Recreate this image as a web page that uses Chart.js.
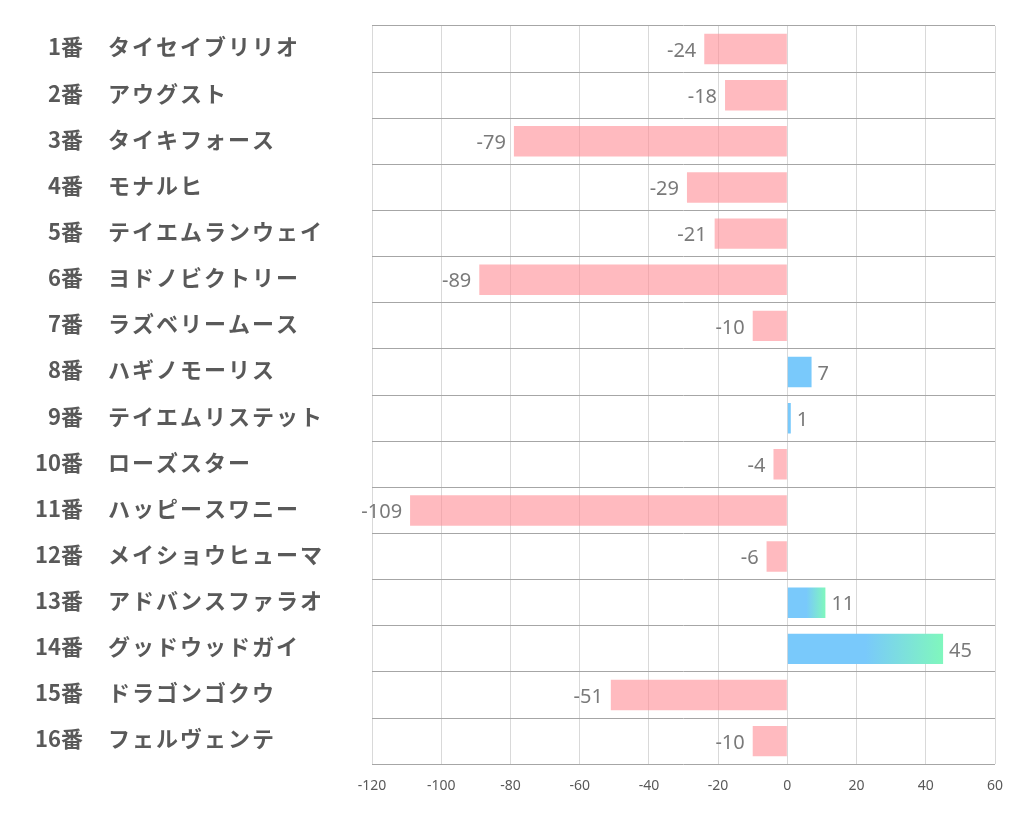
<!DOCTYPE html>
<html>
<head>
<meta charset="utf-8">
<script src="https://cdn.jsdelivr.net/npm/chart.js@4"></script>
<style>
  html, body { margin: 0; padding: 0; background: #fff; }
  #wrap { width: 1022px; height: 834px; }
</style>
</head>
<body>
<div id="wrap"><canvas id="myChart"></canvas></div>
<script>
"use strict";

/********/
/* data */
/********/
const numbers = ["1番", "2番", "3番", "4番", "5番", "6番", "7番", "8番",
	"9番", "10番", "11番", "12番", "13番", "14番", "15番", "16番"];
const horses = ["タイセイブリリオ", "アウグスト", "タイキフォース", "モナルヒ",
	"テイエムランウェイ", "ヨドノビクトリー", "ラズベリームース", "ハギノモーリス",
	"テイエムリステット", "ローズスター", "ハッピースワニー", "メイショウヒューマ",
	"アドバンスファラオ", "グッドウッドガイ", "ドラゴンゴクウ", "フェルヴェンテ"];
const values = [-24, -18, -79, -29, -21, -89, -10, 7, 1, -4, -109, -6, 11, 45, -51, -10];
const xTicks = [-120, -100, -80, -60, -40, -20, 0, 20, 40, 60];

/**********/
/* colors */
/**********/
const pink = "rgba(255, 140, 148, 0.6)";
const blue = "#79c9fb";
const green = "#80f7bd";
const labelFont = "bold 22px 'Noto Sans CJK JP'";
const valueFont = "20px 'Noto Sans'";

function barColor(context) {
	const v = context.raw;
	if (v < 0) {
		return pink;
	}
	const chart = context.chart;
	if (!chart.chartArea || v < 10) {
		return blue;
	}
	// fade to green over the outer half of longer bars
	const x = chart.scales.x;
	const x0 = x.getPixelForValue(0);
	const x1 = x.getPixelForValue(v);
	const g = chart.ctx.createLinearGradient(x0, 0, x1, 0);
	g.addColorStop(0, blue);
	g.addColorStop(0.5, blue);
	g.addColorStop(1, green);
	return g;
}

/***********/
/* plugins */
/***********/
const rowLabels = {
	id: "rowLabels",
	afterDraw(chart) {
		const ctx = chart.ctx;
		const y = chart.scales.y;
		ctx.save();
		ctx.font = labelFont;
		ctx.fillStyle = "#595959";
		ctx.textBaseline = "middle";
		numbers.forEach((num, i) => {
			const py = y.getPixelForValue(i) - 2;
			ctx.letterSpacing = "0px";
			ctx.textAlign = "right";
			ctx.fillText(num, 83, py);
			// name is drawn a little spread out, like the original
			ctx.letterSpacing = "2px";
			ctx.textAlign = "left";
			ctx.fillText(horses[i], 108, py);
		});
		ctx.restore();
	}
};

const valueLabels = {
	id: "valueLabels",
	afterDatasetsDraw(chart) {
		const ctx = chart.ctx;
		const meta = chart.getDatasetMeta(0);
		ctx.save();
		ctx.font = valueFont;
		ctx.fillStyle = "#7a7a7a";
		ctx.textBaseline = "middle";
		meta.data.forEach((bar, i) => {
			const v = values[i];
			if (v < 0) {
				ctx.textAlign = "right";
				ctx.fillText(String(v), bar.x - 8, bar.y + 2);
			} else {
				ctx.textAlign = "left";
				ctx.fillText(String(v), bar.x + 6, bar.y + 2);
			}
		});
		ctx.restore();
	}
};

/********/
/* MAIN */
/********/
(function main() {
	const ctx = document.getElementById("myChart").getContext("2d");
	new Chart(ctx, {
		type: "bar",
		data: {
			labels: horses,
			datasets: [{
				data: values,
				backgroundColor: barColor,
				borderWidth: 0,
				barPercentage: 0.66,
				categoryPercentage: 1
			}]
		},
		options: {
			indexAxis: "y",
			responsive: true,
			maintainAspectRatio: false,
			animation: false,
			layout: { padding: { top: 26, right: 27, bottom: 27, left: 0 } },
			plugins: {
				legend: { display: false },
				tooltip: { enabled: false }
			},
			scales: {
				x: {
					min: -120,
					max: 60,
					afterBuildTicks(scale) {
						scale.ticks = xTicks.map(v => ({ value: v }));
					},
					grid: { color: "#d9d9d9", drawTicks: false },
					border: { display: false },
					ticks: {
						padding: 13,
						color: "#595959",
						font: { family: "'Noto Sans'", size: 14 }
					}
				},
				y: {
					afterFit(scale) {
						scale.width = 372;
					},
					grid: { color: "#a6a6a6", offset: true, drawTicks: false },
					border: { display: false },
					ticks: { display: false }
				}
			}
		},
		plugins: [rowLabels, valueLabels]
	});
})();
</script>
</body>
</html>
